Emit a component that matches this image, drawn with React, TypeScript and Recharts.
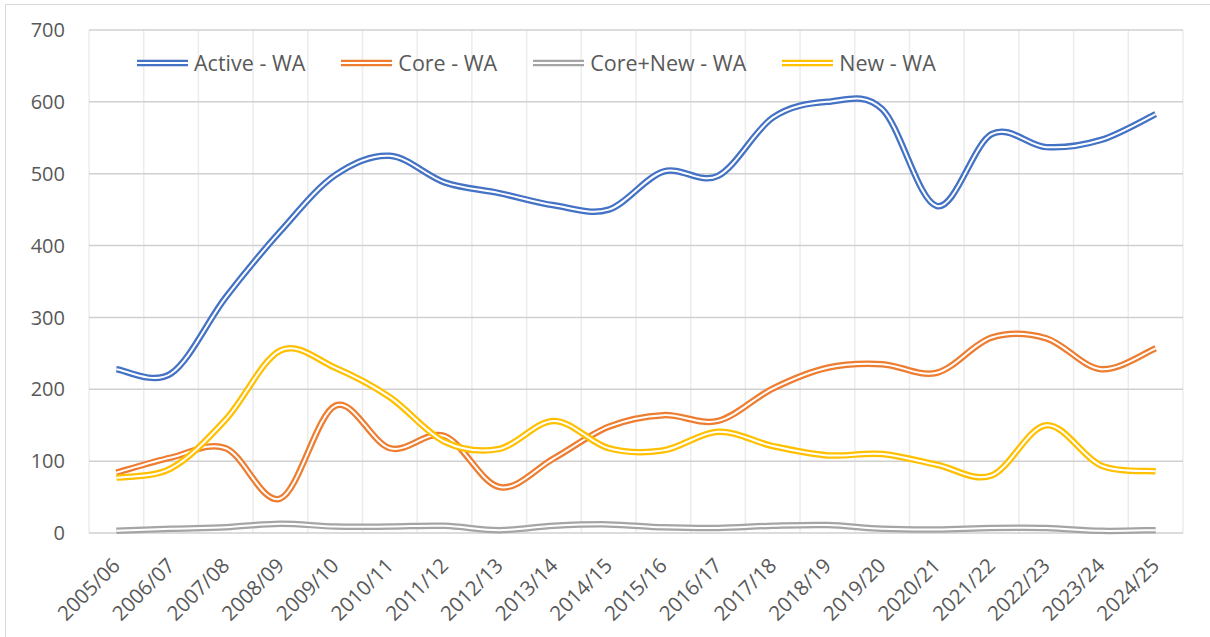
import React from 'react';
import { ComposedChart, Line, XAxis, YAxis, CartesianGrid } from 'recharts';

const categories = ['2005/06','2006/07','2007/08','2008/09','2009/10','2010/11','2011/12','2012/13','2013/14','2014/15','2015/16','2016/17','2017/18','2018/19','2019/20','2020/21','2021/22','2022/23','2023/24','2024/25'];
const activeWA = [228, 222, 328, 420, 498, 525, 488, 473, 456, 450, 503, 497, 578, 600, 590, 455, 555, 537, 547, 583];
const coreWA = [84, 105, 118, 48, 177, 118, 135, 64, 104, 148, 164, 156, 201, 230, 235, 223, 272, 271, 228, 257];
const coreNewWA = [3, 6, 8, 13, 9, 9, 10, 4, 10, 12, 8, 7, 10, 11, 6, 5, 7, 7, 3, 4];
const newWA = [77, 90, 158, 254, 230, 189, 127, 117, 156, 118, 115, 141, 121, 108, 110, 95, 80, 150, 94, 86];
const yTicks = [0, 100, 200, 300, 400, 500, 600, 700];

const series = [
  { key: 'active', name: 'Active - WA', color: '#4472C4', values: activeWA },
  { key: 'core', name: 'Core - WA', color: '#ED7D31', values: coreWA },
  { key: 'coreNew', name: 'Core+New - WA', color: '#A5A5A5', values: coreNewWA },
  { key: 'newWA', name: 'New - WA', color: '#FFC000', values: newWA },
];

const data = categories.map((c, i) => {
  const row: any = { cat: c };
  series.forEach((s) => { row[s.key] = s.values[i]; });
  return row;
});

const FONT = '"Open Sans", "Noto Sans", sans-serif';
const TEXT = '#595959';

// Excel-like smoothed line (Catmull-Rom through the points)
const excelCurve: any = (context: any) => {
  let pts: number[][] = [];
  return {
    areaStart() {},
    areaEnd() {},
    lineStart() { pts = []; },
    point(x: number, y: number) { pts.push([+x, +y]); },
    lineEnd() {
      if (!pts.length) return;
      context.moveTo(pts[0][0], pts[0][1]);
      for (let i = 0; i < pts.length - 1; i++) {
        const p0 = pts[i - 1] || pts[i];
        const p1 = pts[i];
        const p2 = pts[i + 1];
        const p3 = pts[i + 2] || pts[i + 1];
        context.bezierCurveTo(
          p1[0] + (p2[0] - p0[0]) / 6, p1[1] + (p2[1] - p0[1]) / 6,
          p2[0] - (p3[0] - p1[0]) / 6, p2[1] - (p3[1] - p1[1]) / 6,
          p2[0], p2[1]
        );
      }
    },
  };
};

const XTick = (props: any) => {
  const { x, y, payload } = props;
  const ax = x + 5;
  const ay = y + 34;
  return (
    <text x={ax} y={ay} transform={`rotate(-45 ${ax} ${ay})`} textAnchor="end" fontSize={20.5} fill={TEXT} fontFamily={FONT}>
      {payload.value}
    </text>
  );
};

const DoubleIcon = ({ color }: { color: string }) => (
  <svg width={51} height={10} style={{ display: 'block' }}>
    <line x1={0} x2={51} y1={5} y2={5} stroke={color} strokeWidth={6.5} />
    <line x1={0} x2={51} y1={5} y2={5} stroke="#fff" strokeWidth={2} />
  </svg>
);

export default function App() {
  return (
    <div style={{ position: 'absolute', left: 0, top: 0, width: 1210, height: 637, background: '#fff', overflow: 'hidden' }}>
      <div style={{ position: 'absolute', left: 5, top: 4, width: 1230, height: 660, border: '1px solid #d9d9d9' }} />
      <div style={{ position: 'absolute', left: 0, top: 0 }}>
        <ComposedChart width={1210} height={637} data={data} margin={{ top: 30, right: 27, bottom: 4, left: 0 }}>
          <CartesianGrid
            horizontal={false}
            stroke="#ececec"
            strokeWidth={1.5}
            verticalCoordinatesGenerator={({ offset }: any) =>
              Array.from({ length: categories.length + 1 }, (_, i) => offset.left + (i * offset.width) / categories.length)
            }
          />
          <CartesianGrid vertical={false} stroke="#d0d0d0" strokeWidth={1.5} />
          <XAxis dataKey="cat" scale="band" interval={0} axisLine={false} tickLine={false} tickSize={0} tickMargin={0} height={100} tick={<XTick />} />
          <YAxis
            domain={[0, 700]}
            ticks={yTicks}
            width={89}
            axisLine={false}
            tickLine={false}
            tickSize={0}
            tickMargin={24}
            tick={{ fontSize: 20, fill: TEXT, fontFamily: FONT }}
          />
          {series.flatMap((s) => [
            <Line key={s.key + '-o'} dataKey={s.key} type={excelCurve} stroke={s.color} strokeWidth={6.5} dot={false} activeDot={false} isAnimationActive={false} />,
            <Line key={s.key + '-i'} dataKey={s.key} type={excelCurve} stroke="#fff" strokeWidth={2} dot={false} activeDot={false} isAnimationActive={false} legendType="none" />,
          ])}
        </ComposedChart>
      </div>
      <div style={{ position: 'absolute', left: 137, top: 48, display: 'flex', alignItems: 'center', fontFamily: FONT, fontSize: 21.5, color: TEXT, lineHeight: '30px', whiteSpace: 'nowrap' }}>
        {series.map((s) => (
          <div key={s.key} style={{ display: 'flex', alignItems: 'center', marginRight: 36 }}>
            <DoubleIcon color={s.color} />
            <span style={{ marginLeft: 6 }}>{s.name}</span>
          </div>
        ))}
      </div>
    </div>
  );
}
